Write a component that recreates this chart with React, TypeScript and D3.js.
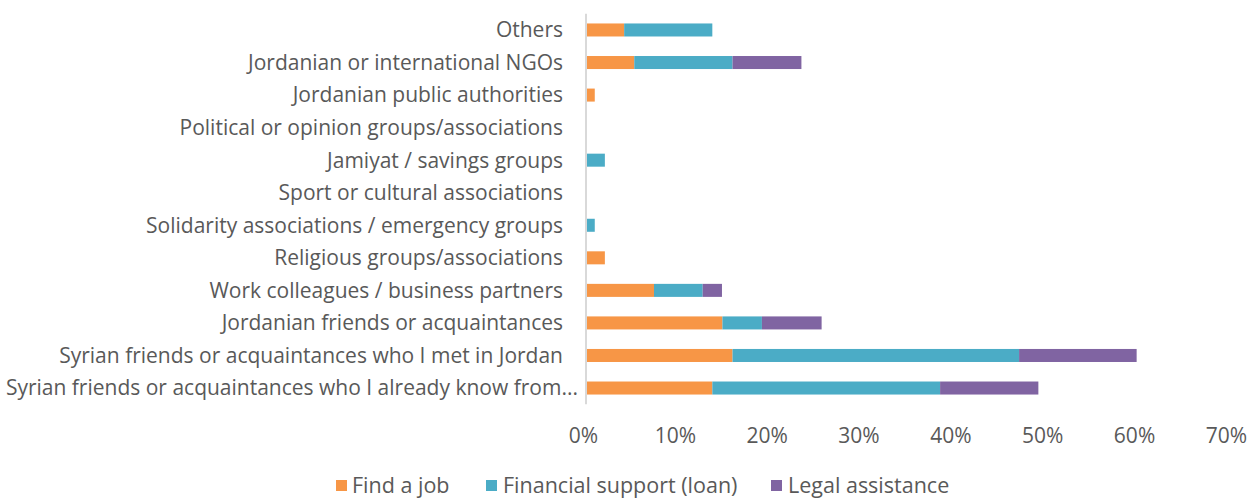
import React from "react";
import * as d3 from "d3";

const categories = [
  "Others",
  "Jordanian or international NGOs",
  "Jordanian public authorities",
  "Political or opinion groups/associations",
  "Jamiyat / savings groups",
  "Sport or cultural associations",
  "Solidarity associations / emergency groups",
  "Religious groups/associations",
  "Work colleagues / business partners",
  "Jordanian friends or acquaintances",
  "Syrian friends or acquaintances who I met in Jordan",
  "Syrian friends or acquaintances who I already know from...",
];

const findJob = [4.1, 5.2, 0.9, 0, 0, 0, 0, 2.0, 7.35, 14.8, 15.9, 13.7];
const financial = [9.6, 10.7, 0, 0, 2.0, 0, 0.9, 0, 5.3, 4.3, 31.2, 24.8];
const legal = [0, 7.5, 0, 0, 0, 0, 0, 0, 2.1, 6.5, 12.8, 10.7];

const seriesNames = ["Find a job", "Financial support (loan)", "Legal assistance"];
const seriesColors = ["#F79646", "#4BACC6", "#8064A2"];
const xTicks = [0, 10, 20, 30, 40, 50, 60, 70];

const FONT = "'Open Sans', sans-serif";
const TEXT = "#595959";

export default function App() {
  const width = 1248;
  const height = 500;
  const x = d3.scaleLinear().domain([0, 70]).range([586.5, 1229.4]);
  const y = d3.scaleBand<string>().domain(categories).range([13.7, 404.3]).paddingInner(0.6).paddingOuter(0.3);

  const rows = categories.map((c, i) => ({ cat: c, v: [findJob[i], financial[i], legal[i]] }));
  const stack = d3.stack<any>().keys(["0", "1", "2"]).value((d, k) => d.v[+k]);
  const stacked = stack(rows as any);

  const legendItems = [
    { sx: 336, tx: 352 },
    { sx: 486, tx: 503 },
    { sx: 771, tx: 788 },
  ];

  return (
    <svg width={width} height={height} style={{ position: "absolute", left: 0, top: 0 }}>
      <rect width={width} height={height} fill="#fff" />
      {stacked.map((s, si) => (
        <g key={si} fill={seriesColors[si]}>
          {s.map((d: any, i: number) => {
            const w = x(d[1]) - x(d[0]);
            if (w <= 0) return null;
            return (
              <rect key={i} x={x(d[0])} y={y(categories[i])!} width={w} height={y.bandwidth()} />
            );
          })}
        </g>
      ))}
      <line x1={586} x2={586} y1={13.7} y2={404.3} stroke="#d9d9d9" strokeWidth={2} />
      {categories.map((c, i) => (
        <text
          key={c}
          x={i === categories.length - 1 ? 578 : 563}
          y={y(c)! + y.bandwidth() / 2}
          dy="0.35em"
          textAnchor="end"
          fontFamily={FONT}
          fontSize={21}
          fill={TEXT}
        >
          {c}
        </text>
      ))}
      {xTicks.map((t) => (
        <text key={t} x={x(t) - 3} y={436} dy="0.35em" textAnchor="middle" fontFamily={FONT} fontSize={21} fill={TEXT}>
          {t}%
        </text>
      ))}
      {seriesNames.map((n, i) => (
        <g key={n}>
          <rect x={legendItems[i].sx} y={480} width={11} height={11} fill={seriesColors[i]} />
          <text x={legendItems[i].tx} y={485} dy="0.35em" fontFamily={FONT} fontSize={21.5} fill={TEXT}>
            {n}
          </text>
        </g>
      ))}
    </svg>
  );
}
